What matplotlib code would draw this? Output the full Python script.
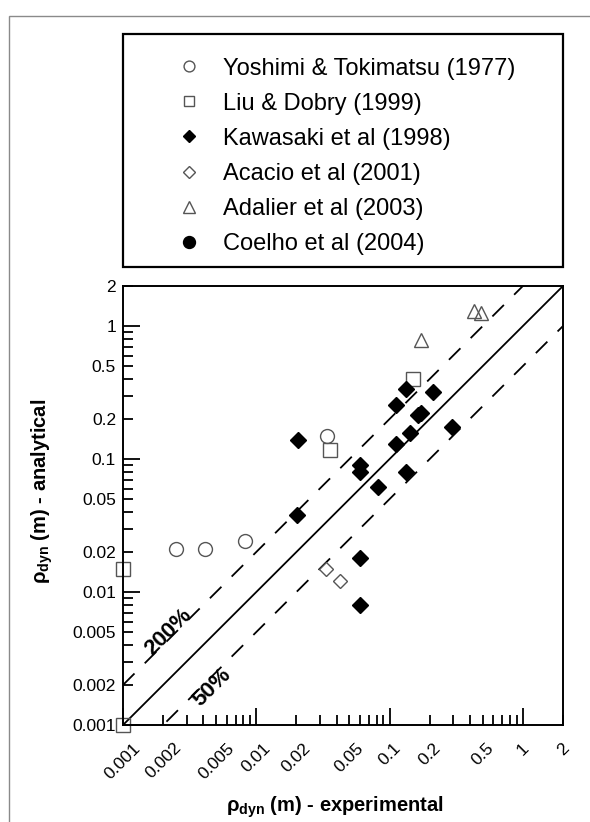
import matplotlib
matplotlib.use("Agg")
import matplotlib.pyplot as plt
from matplotlib.patches import Rectangle

plt.rcParams['font.family'] = ['Liberation Sans', 'DejaVu Sans']
plt.rcParams['mathtext.fontset'] = 'custom'
plt.rcParams['mathtext.rm'] = 'Liberation Sans'
plt.rcParams['mathtext.bf'] = 'Liberation Sans:bold'

# ---------------- data ----------------
yoshimi_x = [0.0025, 0.0041, 0.0082, 0.034]
yoshimi_y = [0.021, 0.021, 0.024, 0.15]

liu_x = [0.001, 0.001, 0.036, 0.15]
liu_y = [0.001, 0.015, 0.117, 0.40]

kawasaki_x = [0.0205, 0.0202, 0.0605, 0.0605, 0.0817, 0.112, 0.112, 0.132,
              0.133, 0.142, 0.162, 0.173, 0.213, 0.296, 0.0605, 0.0605]
kawasaki_y = [0.139, 0.038, 0.090, 0.080, 0.062, 0.255, 0.129, 0.080,
              0.336, 0.156, 0.214, 0.223, 0.321, 0.175, 0.0179, 0.0080]

acacio_x = [0.0336, 0.0428]
acacio_y = [0.0149, 0.0120]

adalier_x = [0.173, 0.43, 0.483]
adalier_y = [0.785, 1.30, 1.26]

coelho_x = []
coelho_y = []

series_labels = ["Yoshimi & Tokimatsu (1977)", "Liu & Dobry (1999)",
                 "Kawasaki et al (1998)", "Acacio et al (2001)",
                 "Adalier et al (2003)", "Coelho et al (2004)"]

major_ticks = [0.001, 0.01, 0.1, 1]
major_labels = ["0.001", "0.01", "0.1", "1"]
minor_ticks = [k * d for d in (0.001, 0.01, 0.1, 1) for k in range(2, 10)]
minor_ticks = [t for t in minor_ticks if t <= 2.0001]
minor_label_map = {0.002: "0.002", 0.005: "0.005", 0.02: "0.02", 0.05: "0.05",
                   0.2: "0.2", 0.5: "0.5", 2: "2"}

limits = (0.001, 2)
ratio_lines = [1.0, 2.0, 0.5]   # 1:1, 200 %, 50 %
ratio_texts = {2.0: "200%", 0.5: "50%"}

# ---------------- figure ----------------
W, H = 590, 822
fig = plt.figure(figsize=(W / 100, H / 100), dpi=100)

# outer grey frame (only left and top edges fall inside the picture)
fig.add_artist(Rectangle((9 / W, -0.05), 1.2, 1 - 16 / H + 0.05,
                         transform=fig.transFigure, fill=False,
                         edgecolor='#8a8a8a', linewidth=1.0))

L, R, T, B = 123, 563, 286, 725
ax = fig.add_axes([L / W, 1 - B / H, (R - L) / W, (B - T) / H])
ax.set_xscale('log')
ax.set_yscale('log')
ax.set_xlim(*limits)
ax.set_ylim(*limits)

# reference lines
for r in ratio_lines:
    xs = [limits[0], limits[1]]
    ys = [r * v for v in xs]
    if r == 1.0:
        ax.plot(xs, ys, color='black', lw=1.3)
    else:
        ax.plot(xs, ys, color='black', lw=1.3, ls=(0, (9, 8)))

ax.text(0.00218, 0.0050, ratio_texts[2.0], rotation=45, fontsize=16,
        fontweight='bold', ha='center', va='center')
ax.text(0.00465, 0.00192, ratio_texts[0.5], rotation=45, fontsize=16,
        fontweight='bold', ha='center', va='center')

grey = '#555555'
h1, = ax.plot(yoshimi_x, yoshimi_y, 'o', ms=10, mfc='white', mec=grey, mew=1.0, clip_on=False)
h2, = ax.plot(liu_x, liu_y, 's', ms=9.5, mfc='none', mec=grey, mew=1.0, clip_on=False)
h3, = ax.plot(kawasaki_x, kawasaki_y, 'D', ms=8.3, mfc='black', mec='black', mew=1.0, clip_on=False)
h4, = ax.plot(acacio_x, acacio_y, 'D', ms=7.3, mfc='white', mec=grey, mew=1.0, clip_on=False)
h5, = ax.plot(adalier_x, adalier_y, '^', ms=10.5, mfc='none', mec=grey, mew=1.0, clip_on=False)
h6, = ax.plot(coelho_x, coelho_y, 'o', ms=11, mfc='black', mec='black', clip_on=False)

# ticks
ax.set_xticks(major_ticks, major_labels)
ax.set_yticks(major_ticks, major_labels)
mlabels = [minor_label_map.get(round(t, 6), "") for t in minor_ticks]
ax.set_xticks(minor_ticks, mlabels, minor=True)
ax.set_yticks(minor_ticks, mlabels, minor=True)

for which, length in (('major', 12), ('minor', 7)):
    ax.tick_params(axis='both', which=which, direction='in', length=length,
                   width=1.3, labelsize=12.5, top=False, right=False)
ax.tick_params(axis='x', which='both', pad=11)
ax.tick_params(axis='y', which='both', pad=5)
for lab in ax.get_xticklabels(which='both'):
    lab.set_rotation(45)
    lab.set_ha('center')

for s in ax.spines.values():
    s.set_linewidth(1.4)

ax.set_xlabel('ρ$_{\\mathbf{dyn}}$ (m) - experimental', fontsize=14.5,
              fontweight='bold')
ax.xaxis.set_label_coords((335 - L) / (R - L), (B - 807) / (B - T))
ax.xaxis.label.set_va('center')
ax.set_ylabel('ρ$_{\\mathbf{dyn}}$ (m) - analytical', fontsize=14.5,
              fontweight='bold')
ax.yaxis.set_label_coords((42 - L) / (R - L), (B - 491) / (B - T))
ax.yaxis.label.set_va('center')

# legend box
fig.add_artist(Rectangle((L / W, 1 - 267 / H), (R - L) / W, (267 - 34) / H,
                         transform=fig.transFigure, fill=False,
                         edgecolor='black', linewidth=1.6))
fig.legend([h1, h2, h3, h4, h5, h6], series_labels, loc='upper left',
           bbox_to_anchor=(177 / W, 1 - 57.5 / H), frameon=False,
           fontsize=17, markerscale=0.78, handlelength=1.0,
           handletextpad=0.93, labelspacing=0.555, borderpad=0,
           borderaxespad=0)

fig.savefig('out.png', dpi=100)
